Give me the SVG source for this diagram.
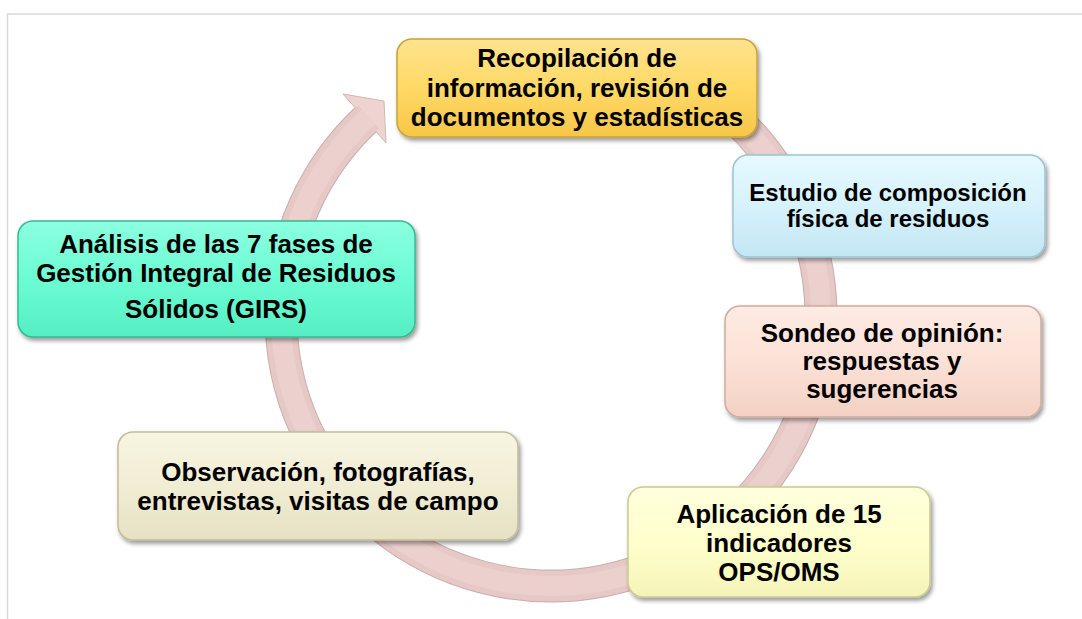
<svg xmlns="http://www.w3.org/2000/svg" width="1082" height="619" viewBox="0 0 1082 619">
<defs>
<style>
.t{font-family:"Liberation Sans",Arial,sans-serif;font-weight:bold;font-size:26px;fill:#000;text-anchor:middle}
.s24{font-size:24px}
.box{filter:url(#sh);stroke-width:1.5}
</style>
<filter id="sh" x="-10%" y="-10%" width="125%" height="135%">
<feDropShadow dx="2" dy="3" stdDeviation="2" flood-color="#000" flood-opacity="0.4"/>
</filter>
<linearGradient id="gY" x1="0" y1="0" x2="0" y2="1"><stop offset="0" stop-color="#FFE38E"/><stop offset="0.5" stop-color="#FFD966"/><stop offset="1" stop-color="#F6C648"/></linearGradient>
<linearGradient id="gB" x1="0" y1="0" x2="0" y2="1"><stop offset="0" stop-color="#E6F9FF"/><stop offset="0.5" stop-color="#D6F2FC"/><stop offset="1" stop-color="#C3E6F3"/></linearGradient>
<linearGradient id="gP" x1="0" y1="0" x2="0" y2="1"><stop offset="0" stop-color="#FEEBE3"/><stop offset="0.5" stop-color="#FCE1D6"/><stop offset="1" stop-color="#F3D1C4"/></linearGradient>
<linearGradient id="gL" x1="0" y1="0" x2="0" y2="1"><stop offset="0" stop-color="#FFFFDD"/><stop offset="0.5" stop-color="#FFFFCC"/><stop offset="1" stop-color="#F4F4B8"/></linearGradient>
<linearGradient id="gC" x1="0" y1="0" x2="0" y2="1"><stop offset="0" stop-color="#F7F4E2"/><stop offset="0.5" stop-color="#F1EDD4"/><stop offset="1" stop-color="#E6E1C3"/></linearGradient>
<linearGradient id="gG" x1="0" y1="0" x2="0" y2="1"><stop offset="0" stop-color="#8CFFE0"/><stop offset="0.5" stop-color="#6CFCD3"/><stop offset="1" stop-color="#55EEC2"/></linearGradient>
</defs>
<rect width="1082" height="619" fill="#fff"/>
<path d="M7.5 619 V14 H1082" fill="none" stroke="#d9d9d9" stroke-width="1.5"/>
<g id="connectors">
<path d="M643.3 62.3 A270 270 0 1 1 368.6 116.9" fill="none" stroke="#c9adab" stroke-width="33"/>
<polygon points="343,94 384,101 386,143" fill="#eed3d1" stroke="#d2b6b4" stroke-width="1" stroke-linejoin="round"/>
<path d="M643.3 62.3 A270 270 0 1 1 368.6 116.9" fill="none" stroke="#e6c8c6" stroke-width="31"/>
<path d="M643.3 62.3 A270 270 0 1 1 368.6 116.9" fill="none" stroke="#ebd0ce" stroke-width="20"/>
</g>
<g id="n1">
<rect class="box" x="397" y="39" width="360" height="98" rx="15" fill="url(#gY)" stroke="#C9A13A"/>
<text class="t" x="577" y="67">Recopilación de</text>
<text class="t" x="577" y="97">información, revisión de</text>
<text class="t" x="577" y="126">documentos y estadísticas</text>
</g>
<g id="n2">
<rect class="box" x="733" y="155" width="312" height="102" rx="15" fill="url(#gB)" stroke="#9CC3D2"/>
<text class="t s24" x="888" y="201">Estudio de composición</text>
<text class="t s24" x="888" y="227">física de residuos</text>
</g>
<g id="n3">
<rect class="box" x="725" y="306" width="316" height="111" rx="15" fill="url(#gP)" stroke="#CFAC9E"/>
<text class="t" x="882" y="342">Sondeo de opinión:</text>
<text class="t" x="882" y="370">respuestas y</text>
<text class="t" x="882" y="398">sugerencias</text>
</g>
<g id="n4">
<rect class="box" x="628" y="487" width="302" height="110" rx="15" fill="url(#gL)" stroke="#C9C992"/>
<text class="t" x="779" y="523">Aplicación de 15</text>
<text class="t" x="779" y="552">indicadores</text>
<text class="t" x="779" y="581">OPS/OMS</text>
</g>
<g id="n5">
<rect class="box" x="118" y="432" width="400" height="108" rx="15" fill="url(#gC)" stroke="#C2BC9A"/>
<text class="t" x="318" y="481">Observación, fotografías,</text>
<text class="t" x="318" y="510">entrevistas, visitas de campo</text>
</g>
<g id="n6">
<rect class="box" x="18" y="221" width="397" height="116" rx="15" fill="url(#gG)" stroke="#36B892"/>
<text class="t" x="216" y="253">Análisis de las 7 fases de</text>
<text class="t" x="216" y="282">Gestión Integral de Residuos</text>
<text class="t" x="216" y="318">Sólidos (GIRS)</text>
</g>
</svg>
